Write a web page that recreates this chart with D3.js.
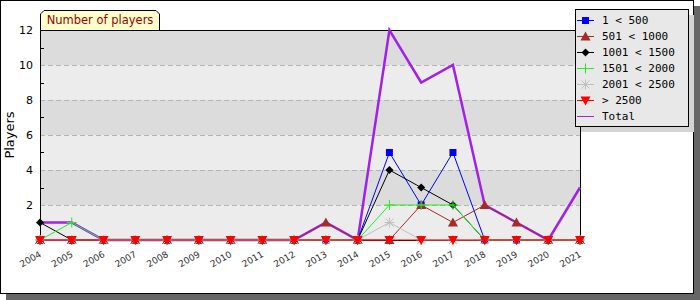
<!DOCTYPE html>
<html>
<head>
<meta charset="utf-8">
<script src="https://cdn.jsdelivr.net/npm/d3@7"></script>
<style>
  body { margin: 0; background: #fff; }
  text { font-family: "DejaVu Sans", Verdana, sans-serif; }
</style>
</head>
<body>
<svg id="chart" width="700" height="300"></svg>
<script>
// data
var years = [2004,2005,2006,2007,2008,2009,2010,2011,2012,2013,2014,2015,2016,2017,2018,2019,2020,2021];
var s1 = [0,0,0,0,0,0,0,0,0,0,0,5,2,5,0,0,0,0];      // 1 < 500
var s2 = [0,0,0,0,0,0,0,0,0,1,0,0,2,1,2,1,0,0];      // 501 < 1000
var s3 = [1,0,0,0,0,0,0,0,0,0,0,4,3,2,0,0,0,0];      // 1001 < 1500
var s4 = [0,1,0,0,0,0,0,0,0,0,0,2,2,2,0,0,0,0];      // 1501 < 2000
var s5 = [0,0,0,0,0,0,0,0,0,0,0,1,0,0,0,0,0,0];      // 2001 < 2500
var s6 = [0,0,0,0,0,0,0,0,0,0,0,0,0,0,0,0,0,0];      // > 2500
var total = [1,1,0,0,0,0,0,0,0,1,0,12,9,10,2,1,0,3];
var names = ["1 < 500", "501 < 1000", "1001 < 1500", "1501 < 2000", "2001 < 2500", "> 2500", "Total"];
var yTicks = [2,4,6,8,10,12];

var series = [
  {name: names[0], vals: s1, color: "#0000ff", sym: "square"},
  {name: names[1], vals: s2, color: "#a52a2a", sym: "triangle"},
  {name: names[2], vals: s3, color: "#000000", sym: "diamond"},
  {name: names[3], vals: s4, color: "#22ee22", sym: "plus"},
  {name: names[4], vals: s5, color: "#c0c0c0", sym: "star"},
  {name: names[5], vals: s6, color: "#ff0000", sym: "down"}
];

var svg = d3.select("#chart");
var margin = {top: 30, left: 40, right: 120, bottom: 60};
var W = 700, H = 300;

// frame with shadow
svg.append("rect").attr("x", 6).attr("y", 6).attr("width", 694).attr("height", 294).attr("fill", "#666");
svg.append("rect").attr("x", 0.5).attr("y", 0.5).attr("width", 693).attr("height", 293)
  .attr("fill", "#fff").attr("stroke", "#000");

var x = d3.scaleLinear().domain([2004, 2021]).range([margin.left, W - margin.right]);
var y = d3.scaleLinear().domain([0, 12]).range([H - margin.bottom, margin.top]);

// alternating bands
var bands = [0,2,4,6,8,10];
svg.selectAll(".band").data(bands).enter().append("rect")
  .attr("class", "band")
  .attr("x", x(2004)).attr("width", x(2021) - x(2004))
  .attr("y", d => y(d + 2)).attr("height", d => y(d) - y(d + 2))
  .attr("fill", (d, i) => i % 2 ? "#dcdcdc" : "#ececec");

// dashed grid
svg.selectAll(".grid").data([2,4,6,8,10]).enter().append("line")
  .attr("x1", x(2004)).attr("x2", x(2021))
  .attr("y1", d => y(d) + 0.5).attr("y2", d => y(d) + 0.5)
  .attr("stroke", "#b4b4b4").attr("stroke-dasharray", "5,3");

// minor ticks inside
svg.selectAll(".minor").data([1,3,5,7,9,11]).enter().append("line")
  .attr("x1", x(2004)).attr("x2", x(2004) + 4)
  .attr("y1", d => Math.round(y(d)) + 0.5).attr("y2", d => Math.round(y(d)) + 0.5)
  .attr("stroke", "#000");

// plot border
svg.append("rect").attr("x", x(2004) + 0.5).attr("y", y(12) + 0.5)
  .attr("width", x(2021) - x(2004)).attr("height", y(0) - y(12))
  .attr("fill", "none").attr("stroke", "#000");

// y axis labels
var yAxis = d3.axisLeft(y).tickValues(yTicks).tickSize(0).tickPadding(7);
svg.append("g").attr("transform", "translate(" + x(2004) + ",0)").call(yAxis)
  .call(g => g.select(".domain").remove())
  .selectAll("text").style("font-size", "11px").attr("fill", "#000")
  .style("font-family", "'DejaVu Sans', sans-serif");

// x axis
var xAxis = d3.axisBottom(x).tickValues(years).tickFormat(d3.format("d")).tickSize(3);
var gx = svg.append("g").attr("transform", "translate(0," + (y(0) + 0.5) + ")").call(xAxis);
gx.select(".domain").remove();
gx.selectAll("text")
  .style("font-size", "9px").attr("fill", "#333")
  .style("font-family", "'DejaVu Sans', sans-serif")
  .style("text-anchor", "end")
  .attr("dy", "0.3em").attr("dx", "0")
  .attr("transform", "translate(-3,8) rotate(-30)");

// y title
svg.append("text").attr("transform", "translate(14," + ((y(0) + y(12)) / 2) + ") rotate(-90)")
  .attr("text-anchor", "middle").style("font-size", "13px").attr("fill", "#000").text("Players");

// title tab
var tx0 = 40, tx1 = 160, ty0 = 10, ty1 = 30;
svg.append("path")
  .attr("d", "M" + (tx0 + 0.5) + "," + ty1 + " L" + (tx0 + 0.5) + "," + (ty0 + 4) + " L" + (tx0 + 4) + "," + (ty0 + 0.5) +
    " L" + (tx1 - 4) + "," + (ty0 + 0.5) + " L" + (tx1 - 0.5) + "," + (ty0 + 4) + " L" + (tx1 - 0.5) + "," + ty1)
  .attr("fill", "#ffffcc").attr("stroke", "#000");
svg.append("text").attr("x", (tx0 + tx1) / 2).attr("y", 24).attr("text-anchor", "middle")
  .style("font-size", "11.5px").attr("fill", "#990000").text("Number of players");

var line = d3.line().x((d, i) => x(years[i])).y(d => y(d));

function marker(g, sym, color, cx, cy) {
  if (sym == "square") {
    g.append("rect").attr("x", cx - 3.5).attr("y", cy - 3.5).attr("width", 7).attr("height", 7).attr("fill", color);
  } else if (sym == "triangle") {
    g.append("path").attr("d", "M" + cx + "," + (cy - 5) + " L" + (cx + 5) + "," + (cy + 4) + " L" + (cx - 5) + "," + (cy + 4) + "Z").attr("fill", color);
  } else if (sym == "down") {
    g.append("path").attr("d", "M" + (cx - 5) + "," + (cy - 4) + " L" + (cx + 5) + "," + (cy - 4) + " L" + cx + "," + (cy + 5) + "Z").attr("fill", color);
  } else if (sym == "diamond") {
    g.append("path").attr("d", "M" + cx + "," + (cy - 4) + " L" + (cx + 4) + "," + cy + " L" + cx + "," + (cy + 4) + " L" + (cx - 4) + "," + cy + "Z").attr("fill", color);
  } else if (sym == "plus") {
    g.append("path").attr("d", "M" + (cx - 5) + "," + cy + " H" + (cx + 5) + " M" + cx + "," + (cy - 5) + " V" + (cy + 5)).attr("stroke", color);
  } else if (sym == "star") {
    g.append("path").attr("d", "M" + (cx - 5) + "," + cy + " H" + (cx + 5) + " M" + cx + "," + (cy - 5) + " V" + (cy + 5) +
      " M" + (cx - 4) + "," + (cy - 4) + " L" + (cx + 4) + "," + (cy + 4) + " M" + (cx - 4) + "," + (cy + 4) + " L" + (cx + 4) + "," + (cy - 4)).attr("stroke", color);
  }
}

// total line
svg.append("path").datum(total).attr("d", line).attr("fill", "none")
  .attr("stroke", "#a020f0").attr("stroke-width", 2.5);

// series lines + markers
series.forEach(function(s) {
  svg.append("path").datum(s.vals).attr("d", line).attr("fill", "none")
    .attr("stroke", s.color).attr("stroke-width", 1);
  var g = svg.append("g");
  s.vals.forEach(function(v, i) { marker(g, s.sym, s.color, x(years[i]), y(v)); });
});

// legend
var lx = 575, ly = 9, lw = 113, lh = 117;
svg.append("rect").attr("x", lx + 6).attr("y", ly + 6).attr("width", lw).attr("height", lh).attr("fill", "#d4d4d4");
svg.append("rect").attr("x", lx + 0.5).attr("y", ly + 0.5).attr("width", lw).attr("height", lh)
  .attr("fill", "#e8e8e8").attr("stroke", "#000");
var items = series.concat([{name: names[6], color: "#a020f0", sym: null}]);
items.forEach(function(s, i) {
  var cy = 20 + i * 16;
  var g = svg.append("g");
  g.append("line").attr("x1", lx + 2).attr("x2", lx + 19).attr("y1", cy + 0.5).attr("y2", cy + 0.5).attr("stroke", s.color);
  if (s.sym) marker(g, s.sym, s.color, lx + 10.5, cy + 0.5);
  g.append("text").attr("x", lx + 27).attr("y", cy + 4).style("font-size", "11px")
    .style("font-family", "'DejaVu Sans Mono', monospace").attr("fill", "#000").text(s.name);
});
</script>
</body>
</html>
